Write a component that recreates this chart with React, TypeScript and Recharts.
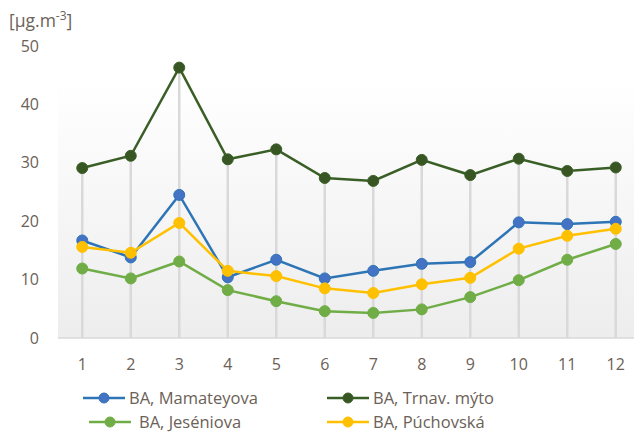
import React from 'react';
import { ComposedChart, Line, Bar, XAxis, YAxis, Legend, CartesianGrid } from 'recharts';

const months = ['1', '2', '3', '4', '5', '6', '7', '8', '9', '10', '11', '12'];
const mamateyova = [16.7, 13.8, 24.5, 10.4, 13.4, 10.2, 11.5, 12.7, 13.0, 19.8, 19.5, 19.9];
const trnavMyto = [29.1, 31.2, 46.3, 30.6, 32.3, 27.4, 26.9, 30.5, 27.9, 30.7, 28.6, 29.2];
const jeseniova = [11.9, 10.2, 13.1, 8.2, 6.3, 4.6, 4.3, 4.9, 7.0, 9.9, 13.4, 16.1];
const puchovska = [15.6, 14.6, 19.7, 11.5, 10.6, 8.5, 7.7, 9.2, 10.3, 15.3, 17.5, 18.7];
const yTicks = [0, 10, 20, 30, 40, 50];

const seriesInfo = [
  { key: 'mamateyova', name: 'BA, Mamateyova', stroke: '#2e75b6', fill: '#4472c4' },
  { key: 'trnavMyto', name: 'BA, Trnav. mýto', stroke: '#3a5f26', fill: '#375623' },
  { key: 'jeseniova', name: 'BA, Jeséniova', stroke: '#70ad47', fill: '#70ad47' },
  { key: 'puchovska', name: 'BA, Púchovská', stroke: '#ffc000', fill: '#ffc000' },
];

const data = months.map((m, i) => ({
  month: m,
  mamateyova: mamateyova[i],
  trnavMyto: trnavMyto[i],
  jeseniova: jeseniova[i],
  puchovska: puchovska[i],
  drop: Math.max(mamateyova[i], trnavMyto[i], jeseniova[i], puchovska[i]),
}));

const textColor = '#6b6157';
const font = '"Open Sans", sans-serif';

const LegendItem = ({ s, left, top, gap }: any) => (
  <div style={{ position: 'absolute', left, top, display: 'flex', alignItems: 'center', height: 18 }}>
    <svg width={44} height={14} style={{ display: 'block' }}>
      <line x1={1} y1={7} x2={43} y2={7} stroke={s.stroke} strokeWidth={2.5} />
      <circle cx={22} cy={7} r={5} fill={s.fill} stroke={s.stroke} strokeWidth={1} />
    </svg>
    <span
      style={{
        marginLeft: gap,
        fontFamily: font,
        fontSize: 16.5,
        lineHeight: '18px',
        color: textColor,
        whiteSpace: 'nowrap',
      }}
    >
      {s.name}
    </span>
  </div>
);

const renderLegend = () => (
  <div style={{ position: 'relative', width: 634, height: 63 }}>
    <LegendItem s={seriesInfo[0]} left={82} top={20} gap={3} />
    <LegendItem s={seriesInfo[1]} left={326} top={20} gap={3} />
    <LegendItem s={seriesInfo[2]} left={88} top={44} gap={7} />
    <LegendItem s={seriesInfo[3]} left={326} top={44} gap={3} />
  </div>
);

export default function App() {
  return (
    <div style={{ position: 'fixed', left: 0, top: 0, width: 634, height: 432, overflow: 'hidden', background: '#fff' }}>
      <div
        style={{
          position: 'absolute',
          left: 9,
          top: 8,
          fontFamily: font,
          fontSize: 17.5,
          color: textColor,
          zIndex: 2,
          whiteSpace: 'nowrap',
        }}
      >
        [µg.m<sup style={{ fontSize: 12, verticalAlign: 'top', position: 'relative', top: -1 }}>-3</sup>]
      </div>
      <ComposedChart
        width={640}
        height={432}
        data={data}
        margin={{ top: 46, right: 0, bottom: 0, left: 0 }}
      >
        <defs>
          <linearGradient id="plotBg" x1="0" y1="0" x2="0" y2="1">
            <stop offset="0%" stopColor="#ffffff" />
            <stop offset="12%" stopColor="#ffffff" />
            <stop offset="100%" stopColor="#ededed" />
          </linearGradient>
        </defs>
        <CartesianGrid horizontal={false} vertical={false} fill="url(#plotBg)" stroke="none" />
        <XAxis
          dataKey="month"
          height={31}
          tickSize={0}
          tickMargin={21}
          axisLine={{ stroke: '#d9d9d9', strokeWidth: 1.5 }}
          tickLine={false}
          tick={{ fill: textColor, fontSize: 16, fontFamily: font }}
        />
        <YAxis
          width={58}
          domain={[0, 50]}
          ticks={yTicks}
          tickSize={0}
          tickMargin={19}
          axisLine={false}
          tickLine={false}
          tick={{ fill: textColor, fontSize: 16, fontFamily: font }}
        />
        <Bar dataKey="drop" barSize={2.5} fill="#d9d9d9" isAnimationActive={false} legendType="none" />
        {seriesInfo.map((s) => (
          <Line
            key={s.key}
            type="linear"
            dataKey={s.key}
            name={s.name}
            stroke={s.stroke}
            strokeWidth={2.5}
            dot={{ r: 5.5, fill: s.fill, stroke: s.stroke, strokeWidth: 1 }}
            activeDot={false}
            isAnimationActive={false}
          />
        ))}
        <Legend
          verticalAlign="bottom"
          content={renderLegend}
          wrapperStyle={{ left: 0, top: 369, bottom: 'auto', width: 634, height: 63, overflow: 'visible' }}
        />
      </ComposedChart>
    </div>
  );
}
